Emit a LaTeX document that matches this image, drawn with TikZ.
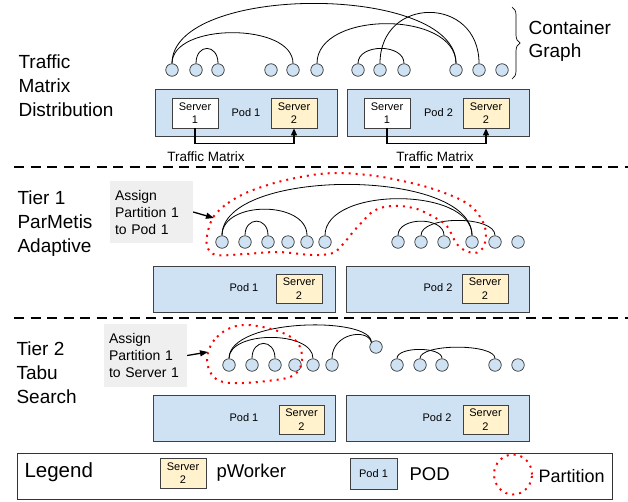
\documentclass[tikz,border=0pt]{standalone}
\usepackage{fontspec}
\setmainfont{Liberation Sans}
\usetikzlibrary{arrows.meta, decorations.pathreplacing, calc}
\definecolor{podblue}{HTML}{CFE2F3}
\definecolor{srvyellow}{HTML}{FFF2CC}
\definecolor{assigngray}{HTML}{EFEFEF}
\begin{document}
\begin{tikzpicture}[x=1pt,y=-1pt,
  pod/.style={draw=black!75, fill=podblue, inner sep=0pt, line width=0.8pt},
  srv/.style={draw=black!75, fill=srvyellow, minimum width=46pt, minimum height=30pt, inner sep=0pt, align=center, font=\fontsize{11}{13.5}\selectfont, line width=0.8pt},
  srvw/.style={srv, fill=white},
  podlbl/.style={font=\fontsize{11}{13}\selectfont},
  cn/.style={circle, draw=black!80, fill=podblue, minimum size=12.5pt, inner sep=0pt, line width=0.7pt},
  arcln/.style={line width=0.8pt},
  part/.style={red, line width=2pt, dash pattern=on 2pt off 5pt},
  dashln/.style={line width=2.5pt, dash pattern=on 10pt off 6.5pt},
  tm/.style={line width=1.3pt, -{Triangle[length=7pt,width=6pt]}},
  asarrow/.style={line width=1.3pt, -{Triangle[length=8pt,width=6pt]}},
  assign/.style={fill=assigngray, inner sep=5pt, text width=73pt, align=left, font=\fontsize{14}{17}\selectfont},
  biglbl/.style={anchor=west, align=left, font=\fontsize{19}{24}\selectfont},
  tmlbl/.style={font=\fontsize{13.5}{16}\selectfont}
]
\useasboundingbox (0,0) rectangle (628,501);

% ---------- Section 1 ----------
\node[biglbl] (l1) at (15,86) {Traffic\\Matrix\\Distribution};
\foreach \i/\x in {0/172,1/196,2/218,3/271,4/293,5/317,6/358,7/380,8/404,9/456,10/479,11/502}
  \node[cn] (a\i) at (\x,70) {};
\draw[arcln] (a0.north) .. controls +(0,-80) and +(0,-80) .. (a9.north);
\draw[arcln] (a0.north) .. controls +(0,-41) and +(0,-41) .. (a4.north);
\draw[arcln] (a1.north) .. controls +(0,-20) and +(0,-20) .. (a2.north);
\draw[arcln] (a5.north) .. controls +(0,-53) and +(0,-53) .. (a9.north);
\draw[arcln] (a6.north) .. controls +(0,-20) and +(0,-20) .. (a8.north);
\draw[arcln] (a7.north) .. controls +(0,-68) and +(0,-68) .. (a10.north);
\coordinate (bt) at (512,7);
\coordinate (bb) at (512,79);
\draw[line width=0.7pt, decorate, decoration={brace, amplitude=8pt}] (bt) -- (bb);
\node[anchor=west, align=left, font=\fontsize{19}{23}\selectfont] (cg) at (525,41.5) {Container\\Graph};

\node[pod, minimum width=182pt, minimum height=47pt] (p1a) at (246,112.5) {};
\node[pod, minimum width=182pt, minimum height=47pt] (p2a) at (438,112.5) {};
\node[srvw] (s1a) at (195,113) {Server\\1};
\node[srv] (s2a) at (294,113) {Server\\2};
\node[srvw] (s1b) at (387,113) {Server\\1};
\node[srv] (s2b) at (486,113) {Server\\2};
\node[podlbl] (pl1a) at (246,113) {Pod 1};
\node[podlbl] (pl2a) at (438.5,113) {Pod 2};
\draw[tm] (s1a.south) -- ++(0,15) -| (s2a.south);
\draw[tm] (s1b.south) -- ++(0,15) -| (s2b.south);
\node[tmlbl] (tma) at (206,157) {Traffic Matrix};
\node[tmlbl] (tmb) at (435,157) {Traffic Matrix};

\coordinate (d1s) at (14,167);
\coordinate (d1e) at (628,167);
\draw[dashln] (d1s) -- (d1e);

% ---------- Section 2 ----------
\node[biglbl] (l2) at (14,223.5) {Tier 1\\ParMetis\\Adaptive};
\node[assign, minimum height=62pt] (as1) at (151.5,212) {Assign\\Partition 1\\to Pod 1};
\coordinate (as1t) at (214,218);
\draw[asarrow] (as1.east) -- (as1t);
\foreach \i/\x in {0/222,1/245,2/268,3/288,4/307,5/325,6/398,7/421,8/444,9/472,10/495,11/518}
  \node[cn] (b\i) at (\x,242) {};
\draw[arcln] (b0.north) .. controls +(0,-68) and +(0,-68) .. (b9.north);
\draw[arcln] (b0.north) .. controls +(0,-35) and +(0,-35) .. (b4.north);
\draw[arcln] (b1.north) .. controls +(0,-19) and +(0,-19) .. (b2.north);
\draw[arcln] (b5.north) .. controls +(0,-49) and +(0,-49) .. (b9.north);
\draw[arcln] (b6.north) .. controls +(0,-19) and +(0,-19) .. (b8.north);
\draw[arcln] (b7.north) .. controls +(0,-20) and +(0,-20) .. (b10.north);
\draw[part] plot[smooth cycle, tension=0.55] coordinates {
  (214,216) (228,203) (248,192) (278,182) (312,175) (338,173) (368,175) (393,179)
  (427,187) (457,198) (473,208) (483,222) (486,235) (483,248) (475,253) (464,250)
  (456,243) (451,233) (445,224) (432,216) (417,209) (400,206) (384,207) (372,212)
  (364,220) (353,232) (344,243) (333,253) (312,255) (278,252) (245,254) (216,255)
  (207,246) (208,231)};
\node[pod, minimum width=182pt, minimum height=46pt] (p1b) at (244,289) {};
\node[pod, minimum width=183pt, minimum height=46pt] (p2b) at (437.5,289) {};
\node[srv, minimum height=29pt] (s2c) at (299,288.5) {Server\\2};
\node[srv, minimum height=29pt] (s2d) at (485,288.5) {Server\\2};
\node[podlbl] (pl1b) at (244,288) {Pod 1};
\node[podlbl] (pl2b) at (438,288) {Pod 2};

\coordinate (d2s) at (14,318);
\coordinate (d2e) at (628,318);
\draw[dashln] (d2s) -- (d2e);

% ---------- Section 3 ----------
\node[biglbl] (l3) at (13,373) {Tier 2\\Tabu\\Search};
\node[assign, minimum height=63pt] (as2) at (145.5,355.5) {Assign\\Partition 1\\to Server 1};
\coordinate (as2t) at (208,352);
\draw[asarrow] (as2.east) -- (as2t);
\foreach \i/\x in {0/229,1/252,2/275,3/295,4/313,5/332,6/397,7/420,8/442,10/495,11/518}
  \node[cn] (c\i) at (\x,365) {};
\node[cn] (c9) at (376,347) {};
\draw[arcln] (c0.north) .. controls (229,318) and (372,316) .. (c9.north west);
\draw[arcln] (c0.north) .. controls +(0,-28) and +(0,-28) .. (c4.north);
\draw[arcln] (c1.north) .. controls +(0,-20) and +(0,-20) .. (c2.north);
\draw[arcln] (c5.north) .. controls (332,333) and (368,328) .. (c9.north west);
\draw[arcln] (c6.north) .. controls +(0,-12) and +(0,-12) .. (c8.north);
\draw[arcln] (c7.north) .. controls +(0,-15) and +(0,-15) .. (c10.north);
\draw[part] plot[smooth cycle, tension=0.6] coordinates {
  (210,347) (217,337) (228,329) (243,325) (263,327) (283,333) (297,342) (302,355)
  (300,368) (290,377) (267,381) (243,383) (223,382) (212,375) (207,361)};
\node[pod, minimum width=182pt, minimum height=46pt] (p1c) at (244,418) {};
\node[pod, minimum width=183pt, minimum height=46pt] (p2c) at (437.5,418) {};
\node[srv, minimum width=45pt, minimum height=29pt] (s2e) at (301.5,419.5) {Server\\2};
\node[srv, minimum width=45pt, minimum height=29pt] (s2f) at (485.5,419.5) {Server\\2};
\node[podlbl] (pl1c) at (244,418) {Pod 1};
\node[podlbl] (pl2c) at (437,418) {Pod 2};

% ---------- Legend ----------
\node[draw=black!80, line width=0.8pt, minimum width=595pt, minimum height=46pt, inner sep=0pt] (leg) at (314.5,476) {};
\node[anchor=west, font=\fontsize{20.5}{24}\selectfont] (legt) at (21,472) {Legend};
\node[srv] (lsrv) at (183,473) {Server\\2};
\node[anchor=west, font=\fontsize{18.5}{22}\selectfont] (lpw) at (213,473) {pWorker};
\node[pod, minimum width=47pt, minimum height=31pt, font=\fontsize{11}{13}\selectfont] (lpod) at (373.5,473.5) {Pod 1};
\node[anchor=west, font=\fontsize{18.5}{22}\selectfont] (lpodt) at (406,474) {POD};
\coordinate (lpc) at (513,474.5);
\draw[part] (lpc) ellipse (19pt and 20pt);
\node[anchor=west, font=\fontsize{18}{22}\selectfont] (lpt) at (535,476) {Partition};
\end{tikzpicture}
\end{document}
